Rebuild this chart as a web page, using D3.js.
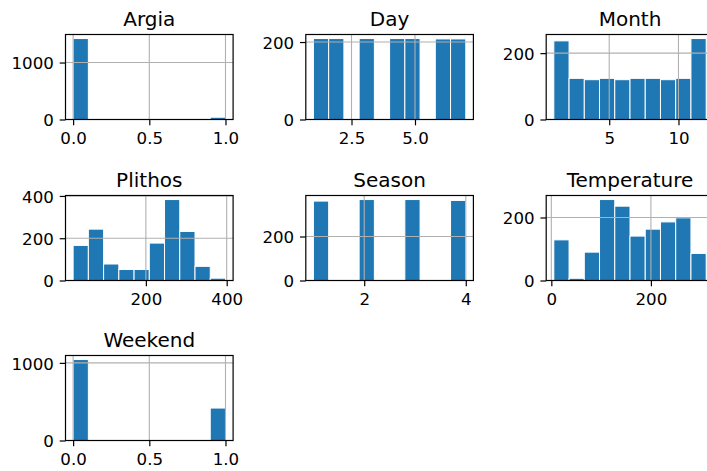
<!DOCTYPE html>
<html>
<head>
<meta charset="utf-8">
<script src="https://cdn.jsdelivr.net/npm/d3@7"></script>
<style>
  html, body { margin: 0; padding: 0; background: #fff; overflow: hidden; }
  svg { display: block; }
  text { font-family: "DejaVu Sans", sans-serif; fill: #000; }
</style>
</head>
<body>
<svg id="chart" width="707" height="471"></svg>
<script>
// ---- data (histogram bin counts, 10 bins over [min, max]) ----
const titles = ["Argia", "Day", "Month", "Plithos", "Season", "Temperature", "Weekend"];

const argiaCounts = [1421, 0, 0, 0, 0, 0, 0, 0, 0, 40];
const argiaRange = [0, 1];
const argiaXTicks = ["0.0", "0.5", "1.0"];
const argiaYTicks = [0, 1000];

const dayCounts = [209, 209, 0, 209, 0, 209, 209, 0, 208, 208];
const dayRange = [1, 7];
const dayXTicks = ["2.5", "5.0"];
const dayYTicks = [0, 200];

const monthCounts = [237, 124, 120, 124, 120, 124, 124, 120, 124, 244];
const monthRange = [1, 12];
const monthXTicks = ["5", "10"];
const monthYTicks = [0, 200];

const plithosCounts = [166, 243, 78, 52, 52, 177, 383, 232, 67, 11];
const plithosRange = [20, 397];
const plithosXTicks = ["200", "400"];
const plithosYTicks = [0, 200, 400];

const seasonCounts = [361, 0, 0, 368, 0, 0, 368, 0, 0, 364];
const seasonRange = [1, 4];
const seasonXTicks = ["2", "4"];
const seasonYTicks = [0, 200];

const temperatureCounts = [129, 7, 90, 257, 236, 141, 163, 186, 199, 86];
const temperatureRange = [5, 311];
const temperatureXTicks = ["0", "200"];
const temperatureYTicks = [0, 200];

const weekendCounts = [1043, 0, 0, 0, 0, 0, 0, 0, 0, 418];
const weekendRange = [0, 1];
const weekendXTicks = ["0.0", "0.5", "1.0"];
const weekendYTicks = [0, 1000];

const panels = [
  { title: titles[0], counts: argiaCounts, range: argiaRange, xt: argiaXTicks, yt: argiaYTicks },
  { title: titles[1], counts: dayCounts, range: dayRange, xt: dayXTicks, yt: dayYTicks },
  { title: titles[2], counts: monthCounts, range: monthRange, xt: monthXTicks, yt: monthYTicks },
  { title: titles[3], counts: plithosCounts, range: plithosRange, xt: plithosXTicks, yt: plithosYTicks },
  { title: titles[4], counts: seasonCounts, range: seasonRange, xt: seasonXTicks, yt: seasonYTicks },
  { title: titles[5], counts: temperatureCounts, range: temperatureRange, xt: temperatureXTicks, yt: temperatureYTicks },
  { title: titles[6], counts: weekendCounts, range: weekendRange, xt: weekendXTicks, yt: weekendYTicks }
];

// ---- layout ----
const colLeft = [65.5, 305.8, 546.2];
const rowTop = [34.5, 195.5, 355.5];
const axW = 167.6, axH = 85;
const tickLen = 5.8, tickPad = 5.8;
const fs = 16.67, titleFs = 20;
const barColor = "#1f77b4";
const gridColor = "#b0b0b0";

const svg = d3.select("#chart");

panels.forEach((p, i) => {
  const r = Math.floor(i / 3), c = i % 3;
  const x0 = colLeft[c], y0 = rowTop[r];
  const [mn, mx] = p.range;
  const R = mx - mn;
  const edges = d3.range(11).map(k => mn + k * R / 10);
  const bins = p.counts.map((v, k) => ({ x0: edges[k], x1: edges[k + 1], v }));

  const x = d3.scaleLinear().domain([mn - 0.05 * R, mx + 0.05 * R]).range([0, axW]);
  const y = d3.scaleLinear().domain([0, d3.max(p.counts) * 1.05]).range([axH, 0]);

  const g = svg.append("g").attr("transform", `translate(${x0},${y0})`);

  // bars
  g.append("g").selectAll("rect").data(bins.filter(b => b.v > 0)).join("rect")
    .attr("x", b => x(b.x0))
    .attr("width", b => x(b.x1) - x(b.x0))
    .attr("y", b => y(b.v))
    .attr("height", b => y(0) - y(b.v))
    .attr("fill", barColor)
    .attr("stroke", "#fff")
    .attr("stroke-width", 1);

  // grid (drawn above bars, matplotlib default)
  const xtVals = p.xt.map(Number);
  const grid = g.append("g").attr("stroke", gridColor).attr("stroke-width", 1.1);
  grid.selectAll("line.gx").data(xtVals).join("line")
    .attr("x1", d => x(d)).attr("x2", d => x(d)).attr("y1", 0).attr("y2", axH);
  grid.selectAll("line.gy").data(p.yt).join("line")
    .attr("x1", 0).attr("x2", axW).attr("y1", d => y(d)).attr("y2", d => y(d));

  // x axis
  const xAxis = d3.axisBottom(x).tickValues(xtVals)
    .tickFormat((d, k) => p.xt[k]).tickSize(tickLen).tickPadding(tickPad);
  const gx = g.append("g").attr("transform", `translate(0,${axH})`).call(xAxis);
  gx.select(".domain").remove();
  gx.selectAll(".tick line").attr("stroke", "#000").attr("stroke-width", 1.2);
  gx.selectAll(".tick text").attr("font-size", fs).attr("fill", "#000")
    .attr("font-family", "DejaVu Sans, sans-serif").attr("dy", "0.78em");

  // y axis
  const yAxis = d3.axisLeft(y).tickValues(p.yt).tickFormat(d3.format("d"))
    .tickSize(tickLen).tickPadding(tickPad);
  const gy = g.append("g").call(yAxis);
  gy.select(".domain").remove();
  gy.selectAll(".tick line").attr("stroke", "#000").attr("stroke-width", 1.2);
  gy.selectAll(".tick text").attr("font-size", fs).attr("fill", "#000")
    .attr("font-family", "DejaVu Sans, sans-serif").attr("dy", "0.38em");

  // spines
  g.append("rect").attr("x", 0).attr("y", 0).attr("width", axW).attr("height", axH)
    .attr("fill", "none").attr("stroke", "#000").attr("stroke-width", 1.2);

  // title
  g.append("text").attr("x", axW / 2).attr("y", -9)
    .attr("text-anchor", "middle").attr("font-size", titleFs).text(p.title);
});
</script>
</body>
</html>
